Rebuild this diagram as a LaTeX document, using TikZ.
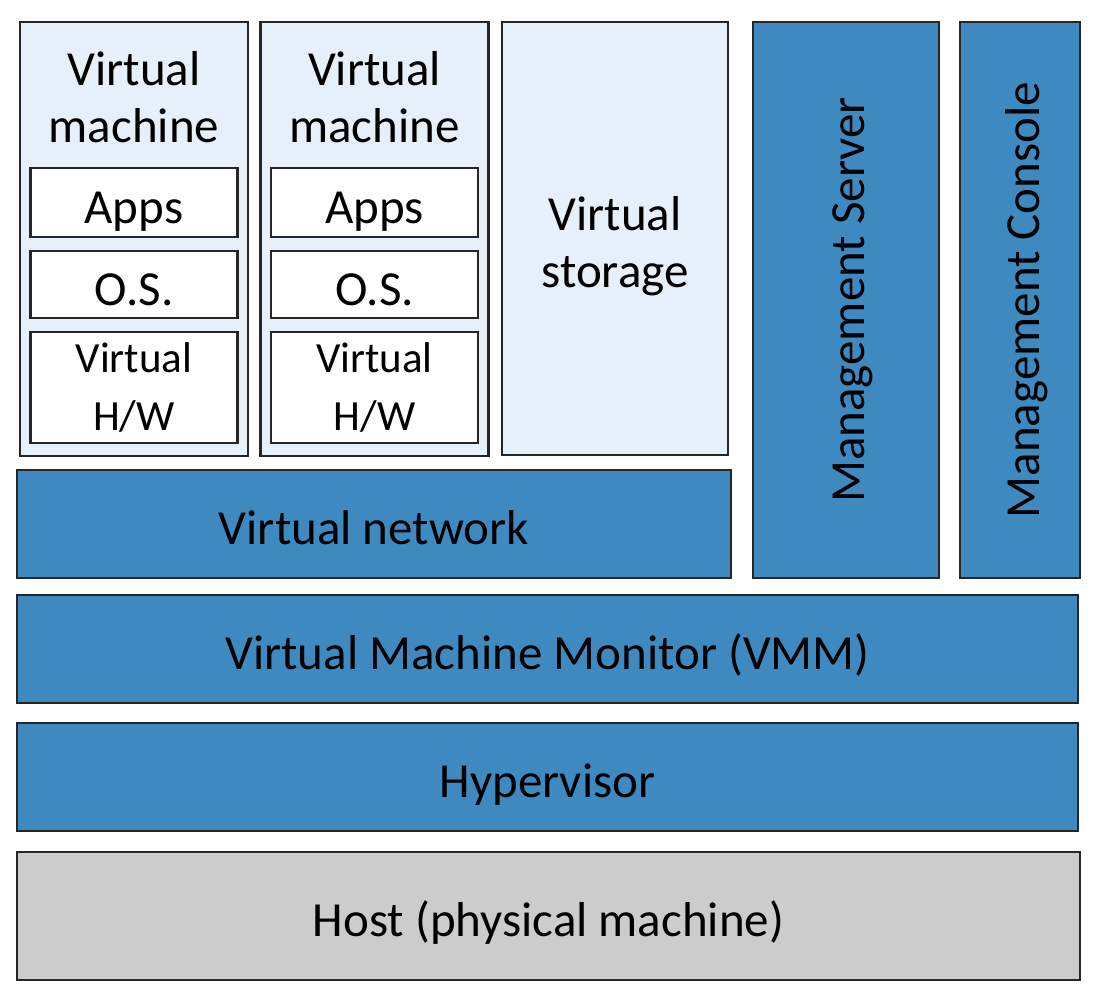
\documentclass[tikz,border=0pt]{standalone}
\usepackage{fontspec}
\setmainfont{Carlito}
\usetikzlibrary{shadows}
\definecolor{vmlight}{HTML}{E6F0FA}
\definecolor{vmblue}{HTML}{3E8AC0}
\definecolor{vmgray}{HTML}{CCCCCC}
\definecolor{vmedge}{HTML}{262626}

\begin{document}
\begin{tikzpicture}[x=0.5pt,y=-0.5pt,
  box/.style={draw=vmedge,line width=1.1pt,inner sep=0pt,align=center,
    font=\fontsize{24.5}{28.5}\selectfont,
    general shadow={fill=black!30,shadow xshift=0.7pt,shadow yshift=-0.7pt}},
  oneline/.style={text height=20.5pt,text depth=0pt},
  inbox/.style={box,fill=white,minimum width=103.5pt},
  txt/.style={inner sep=0pt,align=center,font=\fontsize{24.5}{28.5}\selectfont}]
  \useasboundingbox (0,0) rectangle (1098,1006);
  % guests
  \foreach \i/\cx in {1/134,2/374.5}{
    \node[box,fill=vmlight,minimum width=114pt,minimum height=217pt] (vm\i) at (\cx,239) {};
    \node[txt] (vmname\i) at (\cx,97) {Virtual\\machine};
    \node[inbox,oneline,minimum height=34.5pt] (apps\i) at (\cx,202.5) {Apps};
    \node[inbox,oneline,minimum height=33.5pt] (os\i) at (\cx,284.5) {O.S.};
    \node[inbox,minimum height=55.5pt,font=\fontsize{21.5}{29}\selectfont] (vhw\i) at (\cx,387.5) {Virtual\\H/W};
  }
  \node[box,fill=vmlight,minimum width=113pt,minimum height=216.5pt] (vstore) at (615,238.5) {};
  \node[txt] (vstoretxt) at (615,246) {Virtual\\storage};
  \node[box,oneline,fill=vmblue,minimum width=357pt,minimum height=54pt] (vnet) at (374,524) {Virtual network};
  % management
  \node[box,fill=vmblue,minimum width=93pt,minimum height=278pt] (mserver) at (846,300) {};
  \node[txt,rotate=90] (mservertxt) at (853,300) {Management Server};
  \node[box,fill=vmblue,minimum width=60pt,minimum height=278pt] (mconsole) at (1020,300) {};
  \node[txt,rotate=90] (mconsoletxt) at (1027,300) {Management Console};
  % base layers
  \node[box,oneline,fill=vmblue,minimum width=530.5pt,minimum height=54pt] (vmm) at (547.5,649) {Virtual Machine Monitor (VMM)};
  \node[box,oneline,fill=vmblue,minimum width=530.5pt,minimum height=54pt] (hyper) at (547.5,777) {Hypervisor};
  \node[box,oneline,fill=vmgray,minimum width=531.5pt,minimum height=64pt] (host) at (548.5,916) {Host (physical machine)};
\end{tikzpicture}
\end{document}
